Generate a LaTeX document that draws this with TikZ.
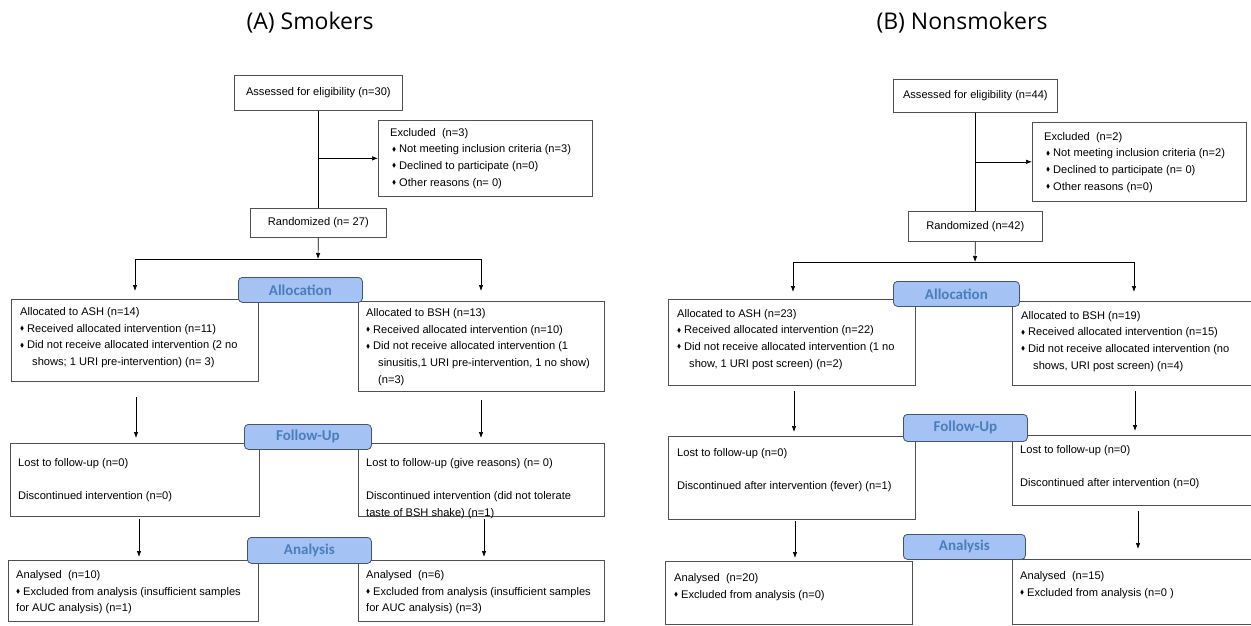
\documentclass[tikz,border=0pt]{standalone}
\usepackage{fontspec}
\setmainfont{Liberation Sans}
\newfontfamily\calib{Carlito}
\newfontfamily\osans{Open Sans}
\usepackage{amssymb}
\usepackage{graphicx}
\usetikzlibrary{arrows.meta}
\definecolor{lblfill}{RGB}{164,194,244}
\definecolor{lbltext}{RGB}{74,126,187}
\definecolor{lbldraw}{RGB}{70,85,110}
\definecolor{boxline}{RGB}{80,80,80}
\newcommand{\dm}{\makebox[7pt][l]{\raisebox{0.3ex}{\scalebox{0.55}{$\blacklozenge$}}}}
\begin{document}
\begin{tikzpicture}[x=1pt,y=-1pt,
 frame/.style={draw=boxline, line width=0.7pt, anchor=north west, inner sep=0pt, fill=white, font=\fontsize{11.1}{16.6}\selectfont},
 txt/.style={anchor=north west, inner sep=0pt, align=left, font=\fontsize{11.1}{16.6}\selectfont},
 lbl/.style={draw=lbldraw, fill=lblfill, rounded corners=4pt, line width=0.8pt, anchor=north west, inner sep=0pt, font=\calib\bfseries\fontsize{15}{15}\selectfont, text=lbltext},
 ttl/.style={font=\osans\fontsize{23}{23}\selectfont},
 arr/.style={-{Latex[length=6pt,width=4.5pt]}, line width=0.7pt},
 ln/.style={line width=0.7pt}]
\useasboundingbox (0,0) rectangle (1251,626);
\clip (0,0) rectangle (1251,626);
\fill[white] (0,0) rectangle (1251,626);

% ================= (A) Smokers =================
\node[ttl] (titleA) at (310,23) {(A) Smokers};
\node[frame, minimum width=168pt, minimum height=35pt] (assessA) at (234,75) {Assessed for eligibility (n=30)};
\node[frame, minimum width=214pt, minimum height=76pt] (exclA) at (378,120) {};
\node[txt] (exclAt) at ([xshift=12pt,yshift=-8pt]exclA.north west) {Excluded\ \ (n=3)\\
\hspace*{2pt}\dm Not meeting inclusion criteria (n=3)\\
\hspace*{2pt}\dm Declined to participate (n=0)\\
\hspace*{2pt}\dm Other reasons (n= 0)};
\node[frame, minimum width=136pt, minimum height=29pt] (randA) at (250,208) {Randomized (n= 27)};

\node[frame, minimum width=247pt, minimum height=82pt] (ashA) at (11,299) {};
\node[txt] (ashAt) at ([xshift=9pt,yshift=-8.5pt]ashA.north west) {Allocated to ASH (n=14)\\
\dm Received allocated intervention (n=11)\\
\dm Did not receive allocated intervention (2 no\\
\hspace*{12pt}shows; 1 URI pre-intervention) (n= 3)};
\node[frame, minimum width=246pt, minimum height=90pt] (bshA) at (358,301) {};
\node[txt] (bshAt) at ([xshift=8pt,yshift=-7.5pt]bshA.north west) {Allocated to BSH (n=13)\\
\dm Received allocated intervention (n=10)\\
\dm Did not receive allocated intervention (1\\
\hspace*{12pt}sinusitis,1 URI pre-intervention, 1 no show)\\
\hspace*{12pt}(n=3)};

\node[frame, minimum width=249pt, minimum height=73pt] (lostAL) at (10,443) {};
\node[txt] (lostALt) at ([xshift=8pt,yshift=-15pt]lostAL.north west) {Lost to follow-up (n=0)\\[16.6pt]
Discontinued intervention (n=0)};
\node[frame, minimum width=246pt, minimum height=73pt] (lostAR) at (358,443) {};
\node[txt] (lostARt) at ([xshift=8pt,yshift=-15pt]lostAR.north west) {Lost to follow-up (give reasons) (n= 0)\\[16.6pt]
Discontinued intervention (did not tolerate\\
taste of BSH shake) (n=1)};

\node[frame, minimum width=250pt, minimum height=61pt] (anaAL) at (8,560) {};
\node[txt] (anaALt) at ([xshift=8pt,yshift=-10.5pt]anaAL.north west) {Analysed\ \ (n=10)\\
\dm Excluded from analysis (insufficient samples\\
for AUC analysis) (n=1)};
\node[frame, minimum width=246pt, minimum height=61pt] (anaAR) at (358,560) {};
\node[txt] (anaARt) at ([xshift=8pt,yshift=-10.5pt]anaAR.north west) {Analysed\ \ (n=6)\\
\dm Excluded from analysis (insufficient samples\\
for AUC analysis) (n=3)};

\node[lbl, minimum width=124pt, minimum height=25pt] (allocA) at (238,277) {Allocation};
\node[lbl, minimum width=127pt, minimum height=25pt] (followA) at (244,424) {Follow-Up};
\node[lbl, minimum width=124pt, minimum height=26pt] (analysisA) at (247,537) {Analysis};

\coordinate (splitA) at (318,259);
\coordinate (barAL) at (135,259);
\coordinate (barAR) at (481,259);
\coordinate (inAL) at (135,291);
\coordinate (inAR) at (481,291);
\coordinate (m1AL) at (136,397);
\coordinate (m2AL) at (136,438);
\coordinate (m1AR) at (481,400);
\coordinate (m2AR) at (481,438);
\coordinate (n1AL) at (139,519);
\coordinate (n2AL) at (139,557);
\coordinate (n1AR) at (484,519);
\coordinate (n2AR) at (484,557);

\draw[ln] (assessA.south) -- (randA.north);
\draw[arr] (assessA.south |- exclA.west) -- (exclA.west);
\draw[arr] (randA.south) -- (splitA);
\draw[ln] (barAL) -- (barAR);
\draw[arr] (barAL) -- (inAL);
\draw[arr] (barAR) -- (inAR);
\draw[arr] (m1AL) -- (m2AL);
\draw[arr] (m1AR) -- (m2AR);
\draw[arr] (n1AL) -- (n2AL);
\draw[arr] (n1AR) -- (n2AR);

% ================= (B) Nonsmokers =================
\node[ttl] (titleB) at (962,23) {(B) Nonsmokers};
\node[frame, minimum width=164pt, minimum height=33pt] (assessB) at (893,79) {Assessed for eligibility (n=44)};
\node[frame, minimum width=214pt, minimum height=79pt] (exclB) at (1032,122) {};
\node[txt] (exclBt) at ([xshift=12pt,yshift=-10pt]exclB.north west) {Excluded\ \ (n=2)\\
\hspace*{2pt}\dm Not meeting inclusion criteria (n=2)\\
\hspace*{2pt}\dm Declined to participate (n= 0)\\
\hspace*{2pt}\dm Other reasons (n=0)};
\node[frame, minimum width=134pt, minimum height=30pt] (randB) at (908,211) {Randomized (n=42)};

\node[frame, minimum width=247pt, minimum height=86pt] (ashB) at (668,299) {};
\node[txt] (ashBt) at ([xshift=9pt,yshift=-10pt]ashB.north west) {Allocated to ASH (n=23)\\
\dm Received allocated intervention (n=22)\\
\dm Did not receive allocated intervention (1 no\\
\hspace*{12pt}show, 1 URI post screen) (n=2)};
\node[frame, minimum width=245pt, minimum height=84pt] (bshB) at (1012,301) {};
\node[txt] (bshBt) at ([xshift=9pt,yshift=-10pt]bshB.north west) {Allocated to BSH (n=19)\\
\dm Received allocated intervention (n=15)\\
\dm Did not receive allocated intervention (no\\
\hspace*{12pt}shows, URI post screen) (n=4)};

\node[frame, minimum width=247pt, minimum height=83pt] (lostBL) at (668,436) {};
\node[txt] (lostBLt) at ([xshift=9pt,yshift=-12.5pt]lostBL.north west) {Lost to follow-up (n=0)\\[16pt]
Discontinued after intervention (fever) (n=1)};
\node[frame, minimum width=245pt, minimum height=70pt] (lostBR) at (1012,435) {};
\node[txt] (lostBRt) at ([xshift=8pt,yshift=-10.5pt]lostBR.north west) {Lost to follow-up (n=0)\\[16pt]
Discontinued after intervention (n=0)};

\node[frame, minimum width=247pt, minimum height=63pt] (anaBL) at (665,561) {};
\node[txt] (anaBLt) at ([xshift=9pt,yshift=-12.5pt]anaBL.north west) {Analysed\ \ (n=20)\\
\dm Excluded from analysis (n=0)};
\node[frame, minimum width=245pt, minimum height=65pt] (anaBR) at (1012,559) {};
\node[txt] (anaBRt) at ([xshift=8pt,yshift=-12.5pt]anaBR.north west) {Analysed\ \ (n=15)\\
\dm Excluded from analysis (n=0 )};

\node[lbl, minimum width=126pt, minimum height=25pt] (allocB) at (893,281) {Allocation};
\node[lbl, minimum width=124pt, minimum height=27pt] (followB) at (903,414) {Follow-Up};
\node[lbl, minimum width=122pt, minimum height=25pt] (analysisB) at (903,534) {Analysis};

\coordinate (splitB) at (975,262);
\coordinate (barBL) at (793,262);
\coordinate (barBR) at (1134,262);
\coordinate (inBL) at (793,292);
\coordinate (inBR) at (1134,292);
\coordinate (m1BL) at (794,391);
\coordinate (m2BL) at (794,432);
\coordinate (m1BR) at (1135,391);
\coordinate (m2BR) at (1135,431);
\coordinate (n1BL) at (795,521);
\coordinate (n2BL) at (795,558);
\coordinate (n1BR) at (1138,511);
\coordinate (n2BR) at (1138,549);

\draw[ln] (assessB.south) -- (randB.north);
\draw[arr] (assessB.south |- exclB.west) -- (exclB.west);
\draw[arr] (randB.south) -- (splitB);
\draw[ln] (barBL) -- (barBR);
\draw[arr] (barBL) -- (inBL);
\draw[arr] (barBR) -- (inBR);
\draw[arr] (m1BL) -- (m2BL);
\draw[arr] (m1BR) -- (m2BR);
\draw[arr] (n1BL) -- (n2BL);
\draw[arr] (n1BR) -- (n2BR);
\end{tikzpicture}
\end{document}
